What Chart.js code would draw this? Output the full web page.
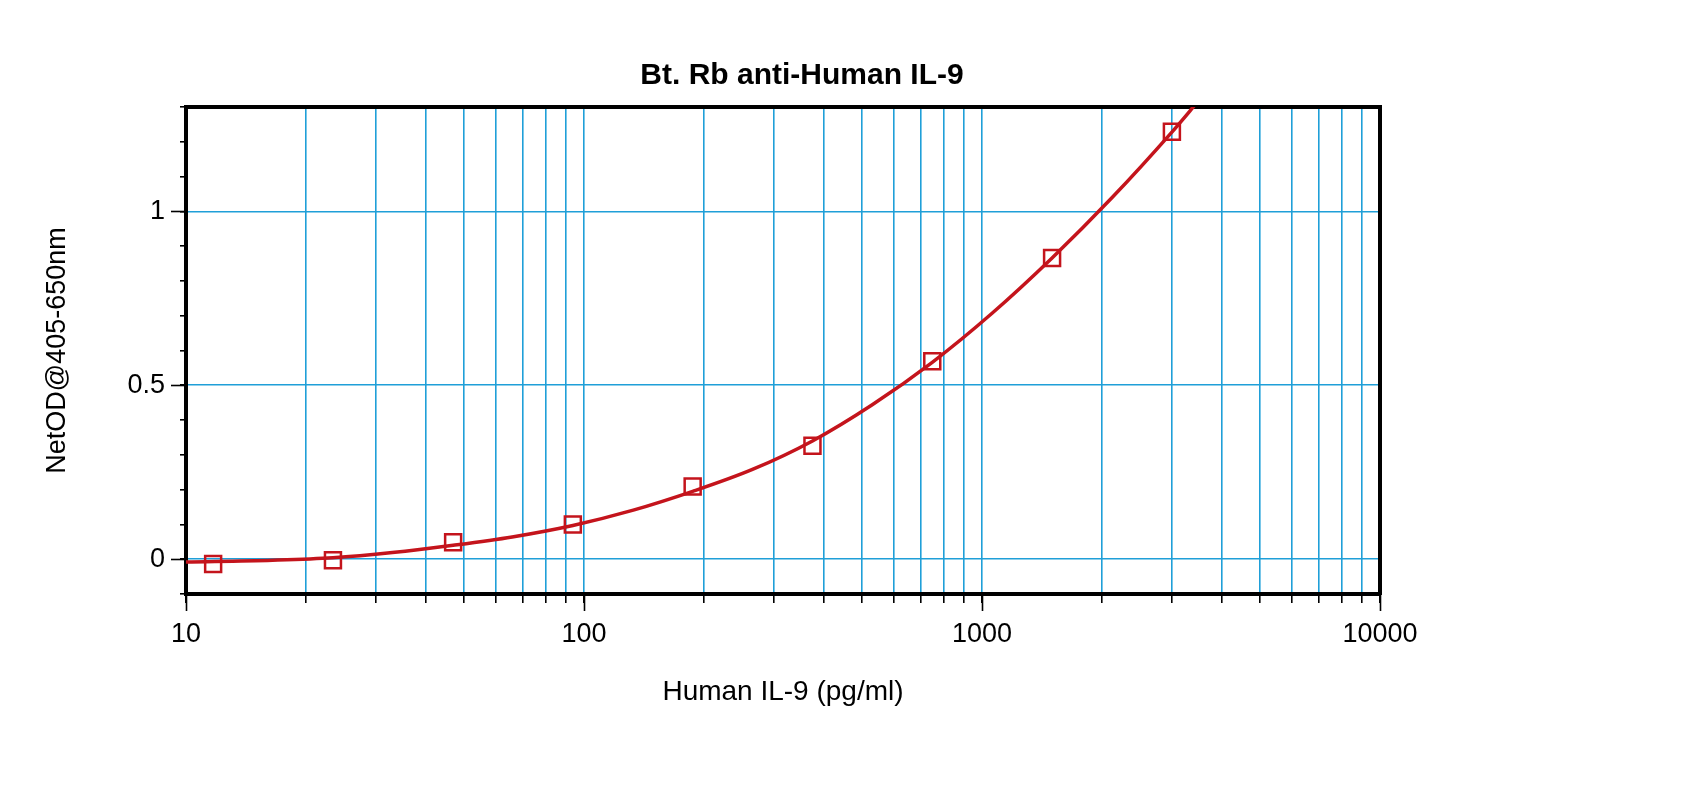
<!DOCTYPE html>
<html>
<head>
<meta charset="utf-8">
<script src="https://cdn.jsdelivr.net/npm/chart.js@4.4.1/dist/chart.umd.min.js"></script>
<style>
  html, body { margin: 0; padding: 0; background: #ffffff; overflow: hidden; }
  #wrap { width: 1700px; height: 797px; }
</style>
</head>
<body>
<div id="wrap"><canvas id="c" width="1700" height="797"></canvas></div>
<script>
// ---- data ----
const chartTitle = 'Bt. Rb anti-Human IL-9';
const xAxisTitle = 'Human IL-9 (pg/ml)';
const yAxisTitle = 'NetOD@405-650nm';

// standards (squares)
const concentrations = [11.7, 23.4, 46.9, 93.75, 187.5, 375, 750, 1500, 3000];
const netOD = [-0.014, -0.003, 0.049, 0.100, 0.209, 0.326, 0.569, 0.866, 1.229];

// fitted curve
const curveX = [10, 16.5, 23.4, 33, 46.9, 66, 93.75, 133, 187.5, 265, 375, 530, 750, 1060, 1500, 2120, 3000, 3500];
const curveY = [-0.008, -0.003, 0.004, 0.019, 0.040, 0.064, 0.097, 0.141, 0.195, 0.258, 0.340, 0.444, 0.566, 0.707, 0.866, 1.039, 1.228, 1.318];

const xMin = 10, xMax = 10000;
const yMin = -0.1, yMax = 1.3;
const xTickValues = [10,20,30,40,50,60,70,80,90,100,200,300,400,500,600,700,800,900,1000,2000,3000,4000,5000,6000,7000,8000,9000,10000];
const xMajorTicks = [10, 100, 1000, 10000];
const yTickValues = [-0.1,0,0.1,0.2,0.3,0.4,0.5,0.6,0.7,0.8,0.9,1.0,1.1,1.2,1.3];
const yMajorTicks = [0, 0.5, 1];
const yGridValues = [0, 0.5, 1];

// ---- styling ----
const FONT = "'Liberation Sans', Arial, Helvetica, sans-serif";
const GRID = '#1f9fd8';
const RED = '#c4141c';
const near = (a, b) => Math.abs(a - b) < 1e-9;

const pointsData = concentrations.map((c, i) => ({x: c, y: netOD[i]}));
const curveData = curveX.map((c, i) => ({x: c, y: curveY[i]}));

const majorTicks = {
  id: 'majorTicks',
  afterDraw(chart) {
    const {ctx, chartArea: a, scales} = chart;
    ctx.save();
    ctx.strokeStyle = '#000';
    ctx.lineWidth = 1.6;
    xMajorTicks.forEach(v => {
      const px = Math.round(scales.x.getPixelForValue(v)) + 0.5;
      ctx.beginPath(); ctx.moveTo(px, a.bottom); ctx.lineTo(px, a.bottom + 17); ctx.stroke();
    });
    yMajorTicks.forEach(v => {
      const py = Math.round(scales.y.getPixelForValue(v)) + 0.5;
      ctx.beginPath(); ctx.moveTo(a.left - 15, py); ctx.lineTo(a.left, py); ctx.stroke();
    });
    ctx.restore();
  }
};

new Chart(document.getElementById('c'), {
  type: 'scatter',
  data: {
    datasets: [
      {
        label: 'Standards',
        data: pointsData,
        showLine: false,
        pointStyle: 'rect',
        pointRadius: 11.3,
        pointHoverRadius: 11.3,
        pointBorderWidth: 2.5,
        pointBorderColor: RED,
        pointBackgroundColor: 'rgba(0,0,0,0)',
        clip: false
      },
      {
        label: 'Fit',
        data: curveData,
        showLine: true,
        borderColor: RED,
        borderWidth: 3.5,
        pointRadius: 0,
        cubicInterpolationMode: 'monotone',
        clip: 0
      }
    ]
  },
  options: {
    responsive: false,
    devicePixelRatio: 1,
    animation: false,
    events: [],
    layout: { padding: { left: 0, right: 96, top: 0, bottom: 0 } },
    plugins: {
      legend: { display: false },
      tooltip: { enabled: false },
      title: {
        display: true,
        text: chartTitle,
        color: '#000',
        font: { family: FONT, size: 30, weight: 'bold' },
        padding: { top: 58, bottom: 0 }
      }
    },
    scales: {
      x: {
        type: 'logarithmic',
        position: 'bottom',
        min: xMin, max: xMax,
        afterBuildTicks: s => { s.ticks = xTickValues.map(v => ({value: v})); },
        afterFit: s => { s.height = 203; },
        ticks: {
          autoSkip: false, maxRotation: 0, minRotation: 0,
          color: '#000',
          font: { family: FONT, size: 27 },
          padding: 15,
          callback: v => xMajorTicks.includes(v) ? String(v) : ''
        },
        grid: {
          color: c => (c.tick && (c.tick.value === xMin || c.tick.value === xMax)) ? 'rgba(0,0,0,0)' : GRID,
          lineWidth: 1.6,
          drawTicks: true,
          tickLength: 9,
          tickColor: '#000',
          tickWidth: 1.6
        },
        border: { display: true, color: '#000', width: 4 },
        title: {
          display: true, text: xAxisTitle, color: '#000',
          font: { family: FONT, size: 28 },
          padding: { top: 0, bottom: 88 }
        }
      },
      x2: {
        type: 'logarithmic',
        position: 'top',
        min: xMin, max: xMax,
        afterFit: s => { s.height = 13; },
        ticks: { display: false },
        grid: { display: true, drawOnChartArea: false, drawTicks: false },
        border: { display: true, color: '#000', width: 4 }
      },
      y: {
        type: 'linear',
        position: 'left',
        min: yMin, max: yMax,
        afterBuildTicks: s => { s.ticks = yTickValues.map(v => ({value: v})); },
        afterFit: s => { s.width = 186; },
        ticks: {
          autoSkip: false,
          color: '#000',
          font: { family: FONT, size: 27 },
          padding: 15,
          callback: v => yMajorTicks.some(m => near(m, v)) ? String(Math.round(v * 10) / 10) : ''
        },
        grid: {
          color: c => (c.tick && yGridValues.some(m => near(m, c.tick.value))) ? GRID : 'rgba(0,0,0,0)',
          lineWidth: 1.6,
          drawTicks: true,
          tickLength: 6,
          tickColor: '#000',
          tickWidth: 1.6
        },
        border: { display: true, color: '#000', width: 4 },
        title: {
          display: true, text: yAxisTitle, color: '#000',
          font: { family: FONT, size: 27 },
          padding: { top: 41, bottom: 0 }
        }
      },
      y2: {
        type: 'linear',
        position: 'right',
        min: yMin, max: yMax,
        afterFit: s => { s.width = 224; },
        ticks: { display: false },
        grid: { display: true, drawOnChartArea: false, drawTicks: false },
        border: { display: true, color: '#000', width: 4 }
      }
    }
  },
  plugins: [majorTicks]
});
</script>
</body>
</html>
